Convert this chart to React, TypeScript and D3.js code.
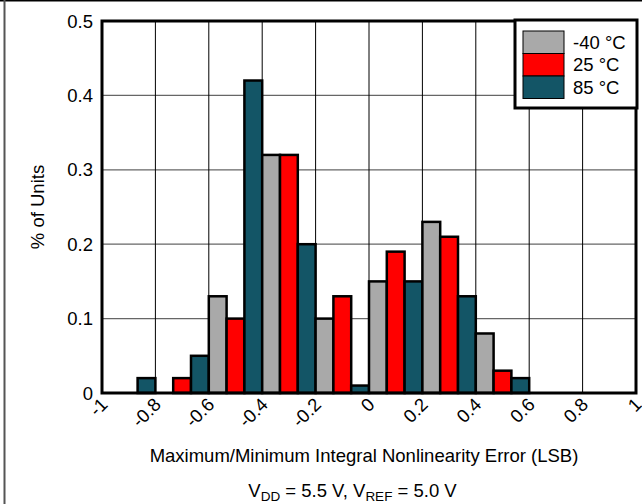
import React from "react";
import * as d3 from "d3";

// bin start values (each bin is 0.2 LSB wide, three bars inside)
const binStarts = [-1, -0.8, -0.6, -0.4, -0.2, 0, 0.2, 0.4, 0.6, 0.8];
const seriesNames = ["-40 °C", "25 °C", "85 °C"];
const coldValues = [0, 0, 0.13, 0.32, 0.1, 0.15, 0.23, 0.08, 0, 0];
const roomValues = [0, 0.02, 0.1, 0.32, 0.13, 0.19, 0.21, 0.03, 0, 0];
const hotValues = [0.02, 0.05, 0.42, 0.2, 0.01, 0.15, 0.13, 0.02, 0, 0];
const xTicks = [-1, -0.8, -0.6, -0.4, -0.2, 0, 0.2, 0.4, 0.6, 0.8, 1];
const xTickLabels = ["-1", "-0.8", "-0.6", "-0.4", "-0.2", "0", "0.2", "0.4", "0.6", "0.8", "1"];
const yTicks = [0, 0.1, 0.2, 0.3, 0.4, 0.5];
const yTickLabels = ["0", "0.1", "0.2", "0.3", "0.4", "0.5"];

const colors = ["#a9a9a9", "#ff0000", "#135566"];
const font = "'Liberation Sans', Arial, sans-serif";

const App = () => {
  const W = 642;
  const H = 504;
  const margin = { top: 21, right: 6, bottom: 111, left: 102 };
  const width = W - margin.left - margin.right;
  const height = H - margin.top - margin.bottom;

  const x = d3.scaleLinear().domain([-1, 1]).range([0, width]);
  const y = d3.scaleLinear().domain([0, 0.5]).range([height, 0]);

  const seriesValues = [coldValues, roomValues, hotValues];
  const binWidth = 0.2;
  const barStep = binWidth / seriesNames.length;

  const bars = [];
  binStarts.forEach((b, bi) => {
    seriesValues.forEach((vals, si) => {
      const v = vals[bi];
      if (v <= 0) return;
      bars.push({
        key: `${bi}-${si}`,
        x0: x(b + si * barStep),
        x1: x(b + (si + 1) * barStep),
        y: y(v),
        color: colors[si],
      });
    });
  });

  const legendW = 122;
  const legendH = 88;
  const swatchW = 41;
  const swatchH = 22.5;

  return (
    <div style={{ position: "absolute", left: 0, top: 0 }}>
      <svg width={W} height={H} style={{ display: "block", fontFamily: font }}>
        <rect width={W} height={H} fill="#fff" />
        {/* outer frame */}
        <line x1={0} x2={W} y1={0.75} y2={0.75} stroke="#000" strokeWidth={1.5} />
        <line x1={4.5} x2={4.5} y1={0} y2={H} stroke="#555" strokeWidth={2} />

        <g transform={`translate(${margin.left},${margin.top})`}>
          {/* grid */}
          {yTicks.map((t) => (
            <line key={`hy${t}`} x1={0} x2={width} y1={y(t)} y2={y(t)} stroke="#666" strokeWidth={1.3} />
          ))}
          {xTicks.map((t) => (
            <line key={`vx${t}`} x1={x(t)} x2={x(t)} y1={0} y2={height} stroke="#000" strokeWidth={1} />
          ))}

          {/* bars */}
          {bars.map((d) => (
            <rect
              key={d.key}
              x={d.x0}
              y={d.y}
              width={d.x1 - d.x0}
              height={height - d.y}
              fill={d.color}
              stroke="#000"
              strokeWidth={2.5}
            />
          ))}

          {/* plot border */}
          <rect x={0} y={0} width={width} height={height} fill="none" stroke="#000" strokeWidth={3} />

          {/* y tick labels */}
          {yTicks.map((t, i) => (
            <text key={`yl${t}`} x={-9} y={y(t)} dy="0.36em" textAnchor="end" fontSize={18.5} fill="#000">
              {yTickLabels[i]}
            </text>
          ))}

          {/* x tick labels */}
          {xTicks.map((t, i) => (
            <text
              key={`xl${t}`}
              transform={`translate(${x(t) + 2},${height + 8}) rotate(-45)`}
              dy="0.36em"
              textAnchor="end"
              fontSize={18.5}
              fill="#000"
            >
              {xTickLabels[i]}
            </text>
          ))}

          {/* legend */}
          <g transform={`translate(${width - legendW + 1},${-1})`}>
            <rect width={legendW} height={legendH} fill="#fff" stroke="#000" strokeWidth={3} />
            {seriesNames.map((name, i) => (
              <g key={name} transform={`translate(8,${11 + i * swatchH})`}>
                <rect width={swatchW} height={swatchH} fill={colors[i]} stroke="#000" strokeWidth={1} />
                <text x={swatchW + 9} y={swatchH / 2} dy="0.36em" fontSize={18.5} fill="#000">
                  {name}
                </text>
              </g>
            ))}
          </g>
        </g>

        {/* axis titles */}
        <text
          transform={`translate(43.5,${margin.top + height / 2}) rotate(-90)`}
          textAnchor="middle"
          fontSize={18.5}
          fill="#000"
        >
          % of Units
        </text>
        <text x={364} y={461.5} textAnchor="middle" fontSize={18.5} fill="#000">
          Maximum/Minimum Integral Nonlinearity Error (LSB)
        </text>
        <text x={352.5} y={496.5} textAnchor="middle" fontSize={18.5} fill="#000">
          V<tspan fontSize={13.5} dy={4}>DD</tspan>
          <tspan dy={-4}> = 5.5 V, V</tspan>
          <tspan fontSize={13.5} dy={4}>REF</tspan>
          <tspan dy={-4}> = 5.0 V</tspan>
        </text>
      </svg>
    </div>
  );
};

export default App;
